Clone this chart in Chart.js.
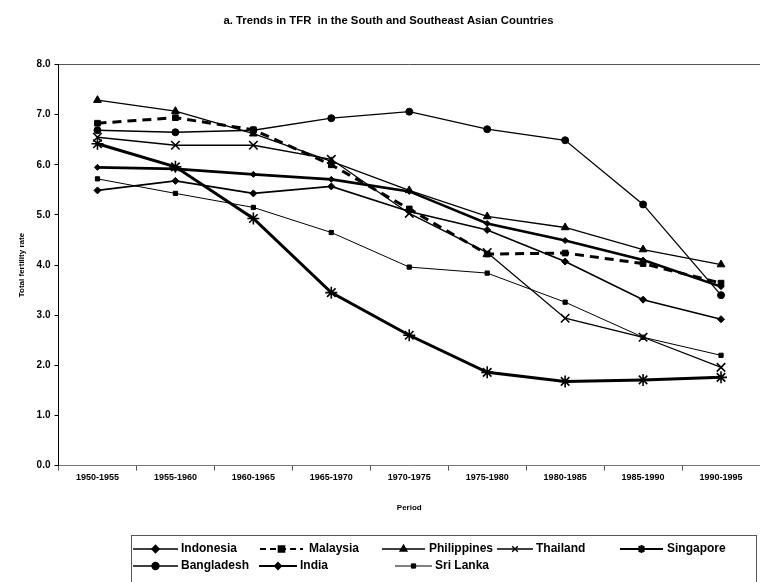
<!DOCTYPE html>
<html>
<head>
<meta charset="utf-8">
<script src="https://cdn.jsdelivr.net/npm/chart.js@4.4.0/dist/chart.umd.min.js"></script>
<style>
  html, body { margin: 0; padding: 0; background: #fff; }
  #wrap { width: 760px; height: 582px; }
</style>
</head>
<body>
<div id="wrap"><canvas id="tfrChart" width="760" height="582"></canvas></div>
<script>
// Periods (x categories)
const periods = ['1950-1955', '1955-1960', '1960-1965', '1965-1970', '1970-1975',
  '1975-1980', '1980-1985', '1985-1990', '1990-1995'];

// TFR values
const indonesia   = [5.49, 5.68, 5.43, 5.57, 5.07, 4.70, 4.07, 3.31, 2.92];
const malaysia    = [6.83, 6.94, 6.70, 6.00, 5.12, 4.22, 4.24, 4.03, 3.64];
const philippines = [7.29, 7.07, 6.62, 6.07, 5.49, 4.97, 4.75, 4.31, 4.01];
const thailand    = [6.55, 6.39, 6.39, 6.11, 5.03, 4.25, 2.94, 2.56, 1.96];
const singapore   = [6.42, 5.96, 4.93, 3.45, 2.60, 1.86, 1.68, 1.71, 1.76];
const bangladesh  = [6.69, 6.65, 6.69, 6.93, 7.06, 6.71, 6.49, 5.21, 3.40];
const india       = [5.95, 5.92, 5.81, 5.71, 5.47, 4.83, 4.49, 4.10, 3.57];
const sriLanka    = [5.72, 5.43, 5.15, 4.65, 3.96, 3.84, 3.26, 2.56, 2.20];

const yTicks = [0, 1, 2, 3, 4, 5, 6, 7, 8];

const FONT = '"Liberation Sans", Arial, sans-serif';

function series(label, data, style, radius, width, dash) {
  return {
    label: label,
    data: data,
    borderColor: '#000',
    backgroundColor: '#000',
    borderWidth: width,
    borderDash: dash || [],
    pointStyle: style,
    pointRadius: radius,
    pointBorderWidth: style === 'crossRot' || style === 'star' ? 1.6 : 1,
    pointBackgroundColor: '#000',
    pointBorderColor: '#000',
    tension: 0,
    fill: false
  };
}

const datasets = [
  series('Indonesia', indonesia, 'rectRot', 3.5, 1.6),
  series('Malaysia', malaysia, 'rect', 4, 3, [9, 6]),
  series('Philippines', philippines, 'triangle', 4.5, 1.3),
  series('Thailand', thailand, 'crossRot', 6, 1.3),
  series('Singapore', singapore, 'star', 6, 3),
  series('Bangladesh', bangladesh, 'circle', 3.5, 1.3),
  series('India', india, 'rectRot', 3, 2.6),
  series('Sri Lanka', sriLanka, 'rect', 3, 1)
];

// legend slots: [sample start, sample end, text x, row y]
const legendSlots = [
  [133, 178, 181, 549], [260, 303, 309, 549], [382, 425, 429, 549],
  [497, 533, 536, 549], [620, 663, 667, 549],
  [133, 178, 181, 566], [259, 297, 300, 566], [395, 432, 435, 566]
];

const boxLegend = {
  id: 'boxLegend',
  afterDraw(chart) {
    const ctx = chart.ctx;
    ctx.save();
    ctx.strokeStyle = '#555';
    ctx.lineWidth = 1;
    ctx.strokeRect(131.5, 535.5, 625, 60);
    chart.data.datasets.forEach((ds, i) => {
      const s = legendSlots[i];
      ctx.strokeStyle = '#000';
      ctx.lineWidth = Math.min(ds.borderWidth, 2);
      ctx.setLineDash(ds.borderDash.length ? [6, 4] : []);
      ctx.beginPath();
      ctx.moveTo(s[0], s[3]);
      ctx.lineTo(s[1], s[3]);
      ctx.stroke();
      ctx.setLineDash([]);
      ctx.fillStyle = '#000';
      Chart.helpers.drawPoint(ctx, {
        pointStyle: ds.pointStyle,
        radius: Math.min(ds.pointRadius, 4),
        borderWidth: 1.2,
        rotation: 0
      }, (s[0] + s[1]) / 2, s[3]);
      ctx.font = 'bold 12px ' + FONT;
      ctx.textBaseline = 'middle';
      ctx.fillText(ds.label, s[2], s[3]);
    });
    ctx.restore();
  }
};

new Chart(document.getElementById('tfrChart'), {
  type: 'line',
  data: { labels: periods, datasets: datasets },
  plugins: [boxLegend],
  options: {
    responsive: false,
    animation: false,
    devicePixelRatio: 1,
    layout: { autoPadding: false, padding: { left: 17, right: 0, top: 0, bottom: 69 } },
    plugins: {
      legend: { display: false },
      tooltip: { enabled: false },
      title: {
        display: true,
        text: 'a. Trends in TFR  in the South and Southeast Asian Countries',
        color: '#000',
        font: { family: FONT, size: 11.3, weight: 'bold' },
        padding: { top: 14, bottom: 37 }
      }
    },
    scales: {
      x: {
        offset: true,
        grid: { offset: true, drawOnChartArea: false, drawTicks: true, tickLength: 5, tickColor: '#555' },
        border: { display: true, color: '#777', width: 1 },
        ticks: { color: '#000', maxRotation: 0, padding: 2, font: { family: FONT, size: 9, weight: 'bold' } },
        title: { display: true, text: 'Period', color: '#000', padding: { top: 18, bottom: 0 },
          font: { family: FONT, size: 8, weight: 'bold' } }
      },
      y: {
        min: 0,
        max: 8,
        afterBuildTicks: (axis) => { axis.ticks = yTicks.map(v => ({ value: v })); },
        ticks: { color: '#000', padding: 4, callback: (v) => Number(v).toFixed(1),
          font: { family: FONT, size: 10, weight: 'bold' } },
        grid: {
          drawOnChartArea: true,
          color: (c) => (c.tick && c.tick.value === 8 ? '#555' : 'rgba(0,0,0,0)'),
          tickColor: '#000',
          tickLength: 4
        },
        border: { display: true, color: '#000', width: 1 },
        title: { display: true, text: 'Total fertility rate', color: '#000', padding: { top: 0, bottom: 6 },
          font: { family: FONT, size: 8, weight: 'bold' } }
      }
    }
  }
});
</script>
</body>
</html>
